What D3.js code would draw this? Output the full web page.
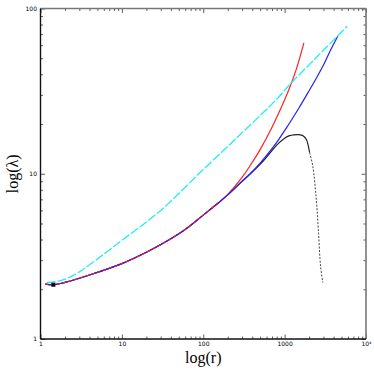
<!DOCTYPE html>
<html>
<head>
<meta charset="utf-8">
<script src="https://cdn.jsdelivr.net/npm/d3@7"></script>
<style>
  body { margin: 0; background: #fff; }
  .tick text { font-family: "DejaVu Sans", sans-serif; font-size: 6px; fill: #000; }
  .axis-title { font-family: "Liberation Serif", "DejaVu Serif", serif; font-size: 16px; }
</style>
</head>
<body>
<div id="chart-area"></div>
<script>
// DATA (r, lambda)
var sharedR   = [1.14, 1.44, 2, 4, 10, 20, 35, 60, 100, 150];
var sharedLam = [2.15, 2.13, 2.2, 2.44, 2.86, 3.35, 3.89, 4.6, 5.62, 6.6];

var redR   = [200, 300, 372, 500, 700, 1000, 1200, 1400, 1726];
var redLam = [7.5, 9.5, 11.1, 14.0, 19.1, 28.0, 34.9, 43.3, 62];

var blueR   = [200, 300, 372, 500, 600, 800, 1100, 1500, 2000, 2500, 3100, 3700, 4500];
var blueLam = [7.45, 9.0, 9.95, 11.6, 12.9, 15.5, 19.6, 25, 31.8, 38.5, 47, 56.5, 68];

var blackR   = [200, 300, 372, 500, 600, 800, 1000, 1150, 1300, 1500, 1700, 1850, 2030, 2220, 2450, 2610, 2770, 2950];
var blackLam = [7.45, 9.0, 9.9, 11.4, 12.6, 14.9, 16.4, 17.0, 17.2, 17.25, 16.9, 16.1, 13.4, 11.1, 6.96, 4.37, 2.74, 2.19];
var blackDashFrom = 2030; // tail of the black curve is dotted

var cyanR   = [1.19, 1.5, 2, 3, 5, 10, 30, 100, 300, 800, 1200, 2000, 3000, 5880];
var cyanLam = [2.2, 2.22, 2.3, 2.55, 3.05, 3.95, 6.0, 10.6, 17.7, 28.3, 35.4, 45.6, 55.9, 78];

var markerR = [1.44];
var markerLam = [2.13];

var xMajor = [1, 10, 100, 1000, 10000];
var xLabels = ["1", "10", "100", "1000", "10\u2074"];
var yMajor = [1, 10, 100];
var yLabels = ["1", "10", "100"];

function zip(rs, ls) { return rs.map(function (r, i) { return { r: r, lam: ls[i] }; }); }

var W = 374, H = 374;
var pLeft = 40.5, pRight = 366, pTop = 8.5, pBottom = 339;

var svg = d3.select("#chart-area").append("svg")
    .attr("width", W).attr("height", H);

var x = d3.scaleLog().domain([1, 1e4]).range([pLeft, pRight]);
var y = d3.scaleLog().domain([1, 100]).range([pBottom, pTop]);

// minor tick positions
var xMinor = [], yMinor = [];
for (var e = 0; e < 4; e++) for (var k = 2; k < 10; k++) xMinor.push(k * Math.pow(10, e));
for (var e2 = 0; e2 < 2; e2++) for (var k2 = 2; k2 < 10; k2++) yMinor.push(k2 * Math.pow(10, e2));

// AXES (ticks point inward on all four sides)
function addAxis(axisFn, scale, vals, len, transform, labels, pad) {
    var ax = axisFn(scale).tickValues(vals).tickSizeInner(-len).tickSizeOuter(0);
    if (labels) ax.tickFormat(function (d, i) { return labels[i]; }).tickPadding(pad + len);
    else ax.tickFormat("");
    var g = svg.append("g").attr("transform", transform).call(ax);
    g.select(".domain").remove();
    g.selectAll(".tick line").attr("stroke", "#333").attr("stroke-width", 0.8);
    return g;
}
addAxis(d3.axisBottom, x, xMinor, 2.5, "translate(0," + pBottom + ")");
addAxis(d3.axisBottom, x, xMajor, 4.5, "translate(0," + pBottom + ")", xLabels, -1.5);
addAxis(d3.axisTop, x, xMinor, 2.5, "translate(0," + pTop + ")");
addAxis(d3.axisTop, x, xMajor, 4.5, "translate(0," + pTop + ")");
addAxis(d3.axisLeft, y, yMinor, 2.5, "translate(" + pLeft + ",0)");
addAxis(d3.axisLeft, y, yMajor, 4.5, "translate(" + pLeft + ",0)", yLabels, -1);
addAxis(d3.axisRight, y, yMinor, 2.5, "translate(" + pRight + ",0)");
addAxis(d3.axisRight, y, yMajor, 4.5, "translate(" + pRight + ",0)");

// frame
svg.append("line").attr("x1", pLeft).attr("x2", pRight).attr("y1", pTop).attr("y2", pTop)
    .attr("stroke", "#777").attr("stroke-width", 1.6);
svg.append("line").attr("x1", pRight).attr("x2", pRight).attr("y1", pTop).attr("y2", pBottom)
    .attr("stroke", "#777").attr("stroke-width", 1.6);
svg.append("line").attr("x1", pLeft).attr("x2", pRight).attr("y1", pBottom).attr("y2", pBottom)
    .attr("stroke", "#111").attr("stroke-width", 1.4);
svg.append("line").attr("x1", pLeft).attr("x2", pLeft).attr("y1", pTop).attr("y2", pBottom)
    .attr("stroke", "#111").attr("stroke-width", 1.4);

// CURVES
var line = d3.line()
    .x(function (d) { return x(d.r); })
    .y(function (d) { return y(d.lam); })
    .curve(d3.curveCatmullRom.alpha(0.5));

var shared = zip(sharedR, sharedLam);
var blackPts = shared.concat(zip(blackR, blackLam));

svg.append("path").datum(blackPts.filter(function (d) { return d.r <= blackDashFrom; }))
    .attr("d", line).attr("fill", "none").attr("stroke", "#222").attr("stroke-width", 1.2);
svg.append("path").datum(blackPts.filter(function (d) { return d.r >= blackDashFrom; }))
    .attr("d", line).attr("fill", "none").attr("stroke", "#444").attr("stroke-width", 1)
    .attr("stroke-dasharray", "2,1.5");

svg.append("path").datum(shared.concat(zip(redR, redLam)))
    .attr("d", line).attr("fill", "none").attr("stroke", "#ff2020").attr("stroke-width", 1.2);

svg.append("path").datum(shared.concat(zip(blueR, blueLam)))
    .attr("d", line).attr("fill", "none").attr("stroke", "#2020ff").attr("stroke-width", 1.2);

// where red and blue overlap they show up interleaved
svg.append("path").datum(shared)
    .attr("d", line).attr("fill", "none").attr("stroke", "#ff2020").attr("stroke-width", 1.2)
    .attr("stroke-dasharray", "3,3");

svg.append("path").datum(zip(cyanR, cyanLam))
    .attr("d", line).attr("fill", "none").attr("stroke", "#22eeee").attr("stroke-width", 1.3)
    .attr("stroke-dasharray", "9,2");

svg.selectAll("rect.marker").data(zip(markerR, markerLam)).enter().append("rect")
    .attr("class", "marker")
    .attr("x", function (d) { return x(d.r) - 2; })
    .attr("y", function (d) { return y(d.lam) - 2; })
    .attr("width", 4).attr("height", 4).attr("fill", "#000");

// axis titles
svg.append("text").attr("class", "axis-title")
    .attr("x", (pLeft + pRight) / 2).attr("y", 363)
    .attr("text-anchor", "middle").text("log(r)");
svg.append("text").attr("class", "axis-title")
    .attr("transform", "translate(18," + ((pTop + pBottom) / 2) + ") rotate(-90)")
    .attr("text-anchor", "middle").text("log(\u03bb)");
</script>
</body>
</html>
